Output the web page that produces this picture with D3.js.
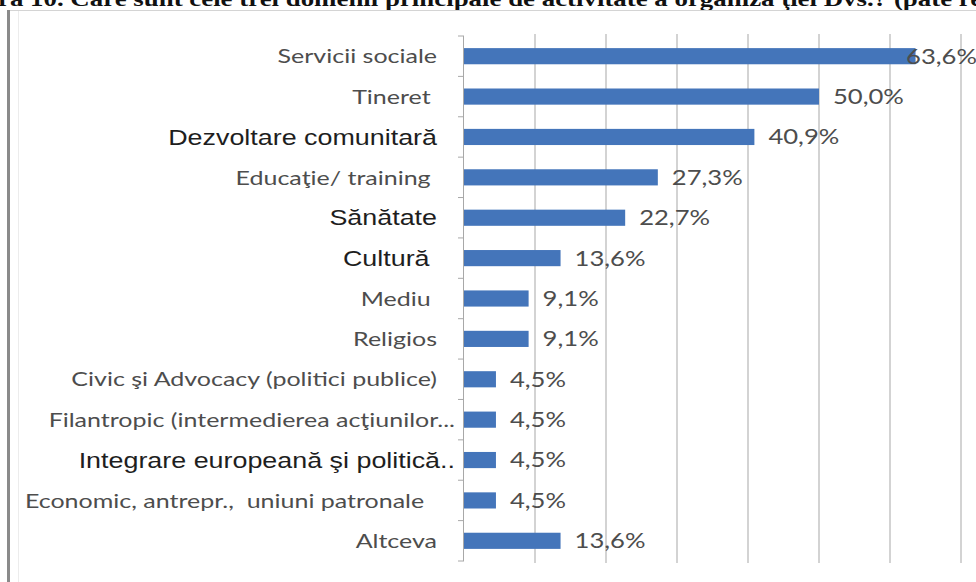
<!DOCTYPE html>
<html>
<head>
<meta charset="utf-8">
<script src="https://cdn.jsdelivr.net/npm/d3@7"></script>
<style>
  html, body { margin: 0; padding: 0; background: #fff; }
  svg { display: block; }
  text { white-space: pre; }
</style>
</head>
<body>
<svg id="chart" width="976" height="582"></svg>
<script>
// Domains of activity and share of organisations (%)
const categories = [
  "Servicii sociale",
  "Tineret ",
  "Dezvoltare comunitară",
  "Educaţie/ training ",
  "Sănătate",
  "Cultură ",
  "Mediu ",
  "Religios",
  "Civic şi Advocacy (politici publice)",
  "Filantropic (intermedierea acţiunilor...",
  "Integrare europeană şi politică..",
  "Economic, antrepr.,  uniuni patronale  ",
  "Altceva"
];
const values = [63.6, 50.0, 40.9, 27.3, 22.7, 13.6, 9.1, 9.1, 4.5, 4.5, 4.5, 4.5, 13.6];
const gridTicks = [10, 20, 30, 40, 50, 60, 70];
const titleText = "ra 10. Care sunt cele trei domenii principale de activitate a organiza ţiei Dvs.? (pate rel";

// Labels typeset in the darker sans face
const accentLabels = new Set(["Dezvoltare comunitară", "Sănătate", "Cultură ", "Integrare europeană şi politică.."]);

const W = 976, H = 582;
const plot = { left: 464, right: 961, top: 36, bottom: 561 };
const stretch = 1.25;

const svg = d3.select("#chart");

const x = d3.scaleLinear().domain([0, 70]).range([plot.left, plot.right]);
const y = d3.scaleBand().domain(categories)
  .range([plot.top, plot.bottom])
  .paddingInner(0.6).paddingOuter(0.3);

// Title (runs off the top edge of the page)
svg.append("text")
  .attr("transform", `translate(-2,6) scale(${stretch},1)`)
  .attr("font-family", "'Liberation Serif', 'Times New Roman', serif")
  .attr("font-weight", "bold")
  .attr("font-size", 21.5)
  .attr("fill", "#111")
  .text(titleText);

// Frame
svg.append("line").attr("x1", 8).attr("x2", W).attr("y1", 10.5).attr("y2", 10.5)
  .attr("stroke", "#d4d4d4").attr("stroke-width", 1);
svg.append("rect").attr("x", 7).attr("y", 10).attr("width", 3).attr("height", H - 10)
  .attr("fill", "#8a8a8a");
svg.append("line").attr("x1", 18.5).attr("x2", 18.5).attr("y1", 11).attr("y2", H)
  .attr("stroke", "#ececec").attr("stroke-width", 1);

// Vertical gridlines
svg.append("g").selectAll("line").data(gridTicks).join("line")
  .attr("x1", d => x(d)).attr("x2", d => x(d))
  .attr("y1", plot.top - 2).attr("y2", plot.bottom + 2)
  .attr("stroke", "#c4c4c4").attr("stroke-width", 1.5);

// Category axis with ticks between categories
const axis = svg.append("g").attr("stroke", "#a8a8a8").attr("stroke-width", 1);
axis.append("line").attr("x1", plot.left - 0.5).attr("x2", plot.left - 0.5)
  .attr("y1", plot.top).attr("y2", plot.bottom);
const boundaries = categories.map((_, i) => plot.top + i * y.step()).concat([plot.bottom]);
axis.selectAll("line.tick").data(boundaries).join("line").attr("class", "tick")
  .attr("x1", plot.left - 6).attr("x2", plot.left)
  .attr("y1", d => d).attr("y2", d => d);

// Bars
svg.append("g").selectAll("rect").data(values).join("rect")
  .attr("x", x(0))
  .attr("y", (d, i) => y(categories[i]))
  .attr("width", d => x(d) - x(0))
  .attr("height", y.bandwidth())
  .attr("fill", "#4475ba");

// Category labels
const labels = svg.append("g");
categories.forEach(c => {
  const truncated = /\.\.$/.test(c);
  const lx = truncated ? plot.left - 9 : plot.left - 27;
  const accent = accentLabels.has(c);
  labels.append("text")
    .attr("transform", `translate(${lx},${y(c) + y.bandwidth() / 2}) scale(${stretch},1)`)
    .attr("text-anchor", "end")
    .attr("dy", "0.36em")
    .attr("font-family", accent ? "'Liberation Sans', Arial, sans-serif" : "Lato, 'Open Sans', sans-serif")
    .attr("font-size", accent ? 21.5 : 20)
    .attr("fill", accent ? "#1e1e1e" : "#4d4d4d")
    .text(c);
});

// Value labels
const fmt = v => d3.format(".1f")(v).replace(".", ",") + "%";
const vals = svg.append("g");
values.forEach((v, i) => {
  const t = vals.append("text")
    .attr("dy", "0.36em")
    .attr("font-family", "Lato, 'Open Sans', sans-serif")
    .attr("font-size", 20.5)
    .attr("fill", "#4d4d4d")
    .text(fmt(v));
  const w = t.node().getComputedTextLength() * stretch;
  const vx = Math.min(x(v) + 14, W + 1 - w);
  t.attr("transform", `translate(${vx},${y(categories[i]) + y.bandwidth() / 2}) scale(${stretch},1)`);
});
</script>
</body>
</html>
